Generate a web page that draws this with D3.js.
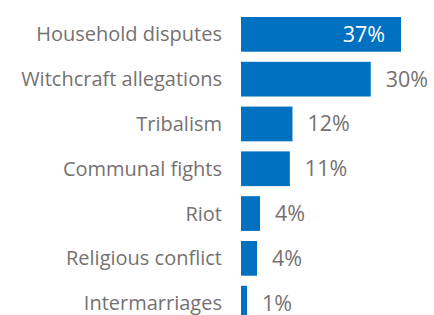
<!DOCTYPE html>
<html>
<head>
<meta charset="utf-8">
<script src="https://cdn.jsdelivr.net/npm/d3@7"></script>
<style>
  body { margin: 0; background: #fff; }
  text { font-family: "Open Sans", "Noto Sans", sans-serif; }
</style>
</head>
<body>
<div id="root"></div>
<script>
const categories = ['Household disputes', 'Witchcraft allegations', 'Tribalism', 'Communal fights', 'Riot', 'Religious conflict', 'Intermarriages'];
const shares = [0.370, 0.300, 0.119, 0.113, 0.044, 0.037, 0.014];

const width = 434, height = 315;
// the last bar runs off the bottom edge, as in the original
const margin = { top: 17, right: 0, bottom: -5.5, left: 241 };

const svg = d3.select('#root').append('svg')
  .attr('width', width)
  .attr('height', height)
  .attr('viewBox', [0, 0, width, height]);

const x = d3.scaleLinear()
  .domain([0, 0.37])
  .range([margin.left, 401]);

const y = d3.scaleBand()
  .domain(categories)
  .range([margin.top, height - margin.bottom])
  .paddingInner(0.225)
  .paddingOuter(0);

const data = categories.map((c, i) => ({ label: c, value: shares[i] }));
const fmt = d3.format('.0%');

const rows = svg.selectAll('g.row')
  .data(data)
  .join('g')
  .attr('class', 'row')
  .attr('transform', (d) => `translate(0, ${y(d.label)})`);

rows.append('rect')
  .attr('x', x(0))
  .attr('width', (d) => x(d.value) - x(0))
  .attr('height', y.bandwidth())
  .attr('fill', '#0070C0');

// category names, right aligned left of the bars
rows.append('text')
  .attr('x', 222)
  .attr('y', y.bandwidth() / 2)
  .attr('dy', '0.35em')
  .attr('text-anchor', 'end')
  .attr('fill', '#767171')
  .style('font-size', '20px')
  .text((d) => d.label);

// value labels: the biggest one sits inside the bar in white
const inside = (d, i) => i === 0;
rows.append('text')
  .attr('x', (d, i) => inside(d, i) ? x(d.value) - 16 : x(d.value) + 15)
  .attr('y', y.bandwidth() / 2)
  .attr('dy', '0.35em')
  .attr('text-anchor', (d, i) => inside(d, i) ? 'end' : 'start')
  .attr('fill', (d, i) => inside(d, i) ? '#fff' : '#767171')
  .style('font-size', '21.5px')
  .text((d) => fmt(d.value));
</script>
</body>
</html>
